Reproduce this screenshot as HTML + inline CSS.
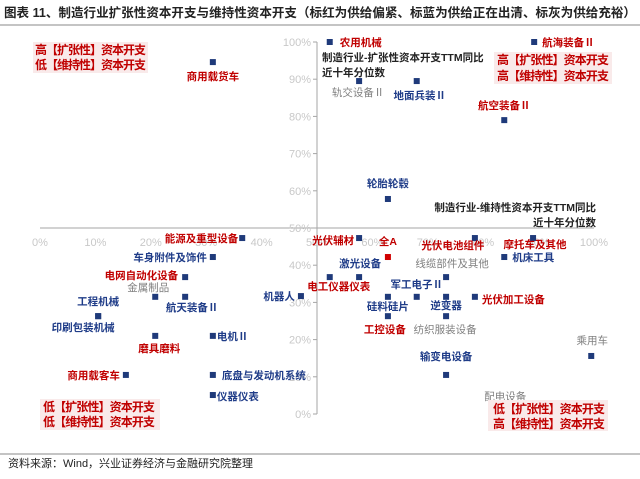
<!DOCTYPE html>
<html><head><meta charset="utf-8"><style>
html,body{margin:0;padding:0;background:#fff;}
body{width:640px;height:474px;overflow:hidden;font-family:"Liberation Sans","Noto Sans CJK SC",sans-serif;}
svg text{font-family:"Liberation Sans","Noto Sans CJK SC",sans-serif;}
</style></head><body>
<svg id="chart" width="640" height="474" xmlns="http://www.w3.org/2000/svg">
<text x="4" y="17" font-size="12.5" font-weight="bold" fill="#222" textLength="632" lengthAdjust="spacingAndGlyphs" font-family="'Noto Serif CJK SC',serif">图表 11、制造行业扩张性资本开支与维持性资本开支（标红为供给偏紧、标蓝为供给正在出清、标灰为供给充裕）</text>
<line x1="0" y1="25" x2="640" y2="25" stroke="#888" stroke-width="1"/>
<g id="axes"></g>
<g id="marks"></g>
<g>
<rect x="33" y="42" width="115" height="31" fill="#f9eaea"/>
<text x="35" y="54" font-size="12" font-weight="bold" fill="#c00000" textLength="111">高【扩张性】资本开支</text>
<text x="35" y="69" font-size="12" font-weight="bold" fill="#c00000" textLength="111">低【维持性】资本开支</text></g>
<g>
<rect x="494" y="52" width="118" height="32" fill="#f9eaea"/>
<text x="497" y="64" font-size="12" font-weight="bold" fill="#c00000" textLength="112">高【扩张性】资本开支</text>
<text x="497" y="80" font-size="12" font-weight="bold" fill="#c00000" textLength="112">高【维持性】资本开支</text></g>
<g>
<rect x="40" y="399" width="120" height="31" fill="#f9eaea"/>
<text x="43" y="411" font-size="12" font-weight="bold" fill="#c00000" textLength="112">低【扩张性】资本开支</text>
<text x="43" y="426" font-size="12" font-weight="bold" fill="#c00000" textLength="112">低【维持性】资本开支</text></g>
<g>
<rect x="488" y="400" width="120" height="31" fill="#f9eaea"/>
<text x="493" y="413" font-size="12" font-weight="bold" fill="#c00000" textLength="112">低【扩张性】资本开支</text>
<text x="493" y="428" font-size="12" font-weight="bold" fill="#c00000" textLength="112">高【维持性】资本开支</text></g>
<g>
<text x="322" y="61" font-size="10.5" font-weight="bold" fill="#222">制造行业-扩张性资本开支TTM同比</text>
<text x="322" y="76" font-size="10.5" font-weight="bold" fill="#222">近十年分位数</text></g>
<g>
<text x="596" y="211" font-size="10.5" font-weight="bold" fill="#222" text-anchor="end">制造行业-维持性资本开支TTM同比</text>
<text x="596" y="226" font-size="10.5" font-weight="bold" fill="#222" text-anchor="end">近十年分位数</text></g>
<line x1="0" y1="454" x2="640" y2="454" stroke="#888" stroke-width="1"/>
<text x="8" y="467" font-size="11" fill="#222">资料来源：Wind，兴业证券经济与金融研究院整理</text>
</svg>
<script>
const xTicks=[0,10,20,30,40,50,60,70,80,90,100];
const yTicks=[0,10,20,30,40,50,60,70,80,90,100];
const names=["商用载货车","农用机械","航海装备Ⅱ","轨交设备Ⅱ","地面兵装Ⅱ","航空装备Ⅱ","轮胎轮毂","能源及重型设备","光伏辅材","全A","光伏电池组件","摩托车及其他","机床工具","车身附件及饰件","电网自动化设备","金属制品","航天装备Ⅱ","机器人","激光设备","电工仪器仪表","线缆部件及其他","硅料硅片","军工电子Ⅱ","逆变器","光伏加工设备","工控设备","纺织服装设备","乘用车","输变电设备","配电设备","工程机械","印刷包装机械","磨具磨料","电机Ⅱ","商用载客车","底盘与发动机系统","仪器仪表"];
const maintPct=[31.2,52.3,89.2,57.6,68,83.8,62.8,36.5,57.6,62.8,78.5,89,83.8,31.2,26.2,20.8,26.2,47.1,57.6,52.3,73.3,62.8,68,73.3,78.5,62.8,73.3,99.5,73.3,83.8,10.5,10.5,20.8,31.2,15.5,31.2,31.2];
const expPct=[94.6,100,100,89.5,89.5,79,57.8,47.3,47.3,42.2,47.3,47.3,42.2,42.2,36.8,31.5,31.5,31.7,36.8,36.8,36.8,31.5,31.5,31.5,31.5,26.3,26.3,15.6,10.5,0,26.3,26.3,21,21,10.5,10.5,5.1];
const supply=["r","r","r","g","b","r","b","r","r","a","r","r","b","b","r","g","b","b","b","r","g","b","b","b","r","r","g","g","b","g","b","b","r","b","r","b","b"];
// label placement offsets [dx,dy,anchor]
const labelPos=[[0,18,"middle"],[10,4,"start"],[8,4,"start"],[-1,15,"middle"],[3,18,"middle"],[0,-11,"middle"],[0,-12,"middle"],[-4,4,"end"],[-5,6,"end"],[0,-12,"middle"],[-22,11,"middle"],[2,10,"middle"],[8,4,"start"],[-6,4,"end"],[-7,2,"end"],[-7,-6,"middle"],[7,14,"middle"],[-6,4,"end"],[1,-10,"middle"],[9,13,"middle"],[6,-10,"middle"],[0,13,"middle"],[0,-9,"middle"],[0,12,"middle"],[7,6,"start"],[-3,17,"middle"],[-1,17,"middle"],[1,-12,"middle"],[0,-15,"middle"],[1,-14,"middle"],[0,-11,"middle"],[-15,15,"middle"],[4,16,"middle"],[4,4,"start"],[-6,4,"end"],[9,4,"start"],[4,5,"start"]];
const X0=40,X1=594,Y0=414,Y1=42;
const sx=v=>X0+(X1-X0)*v/100;
const sy=v=>Y0-(Y0-Y1)*v/100;
const NS="http://www.w3.org/2000/svg";
const axes=document.getElementById("axes"),marks=document.getElementById("marks");
function mk(tag,attrs,parent){const e=document.createElementNS(NS,tag);for(const k in attrs)e.setAttribute(k,attrs[k]);parent.appendChild(e);return e;}
const xa=mk("line",{x1:sx(0),y1:sy(50),x2:sx(100),y2:sy(50),stroke:"#a6a6a6","stroke-width":1},axes);


const ya=mk("line",{x1:sx(50),y1:sy(0),x2:sx(50),y2:sy(100),stroke:"#a6a6a6","stroke-width":1},axes);


xTicks.forEach(t=>{
  const tx=mk("text",{x:sx(t),y:sy(50)+18,"font-size":11,fill:"#c8c8c8","text-anchor":"middle"},axes);
  tx.textContent=t+"%";
  
  
});
yTicks.forEach(t=>{
  const tk=mk("line",{x1:sx(50)-4,y1:sy(t),x2:sx(50),y2:sy(t),stroke:"#a6a6a6"},axes);
  
  
  const ty=mk("text",{x:sx(50)-6,y:sy(t)+4,"font-size":11,fill:"#c8c8c8","text-anchor":"end"},axes);
  ty.textContent=t+"%";
  
  
});
const colors={r:"#c00000",b:"#1f3c88",g:"#7f7f7f",a:"#c00000"};
names.forEach((n,i)=>{
  const px=sx(maintPct[i]),py=sy(expPct[i]);
  const p=mk("rect",{x:px-3,y:py-3,width:6,height:6,fill:supply[i]==="a"?"#d00000":"#1f3a7a"},marks);
  
  
  const lp=labelPos[i];
  const g=supply[i]==="g";
  const l=mk("text",{x:px+lp[0],y:py+lp[1],"text-anchor":lp[2],"font-size":10.5,"font-weight":g?"normal":"bold",fill:colors[supply[i]]},marks);
  l.textContent=n;
  
  
});
</script>
</body></html>
